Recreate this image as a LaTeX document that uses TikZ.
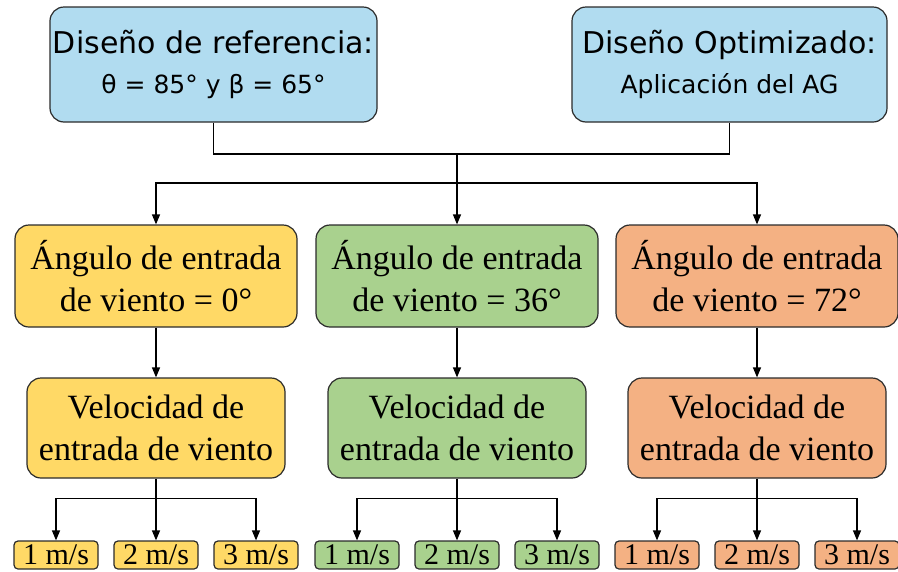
\documentclass[tikz,border=0pt]{standalone}
\usepackage{fontspec}
\setmainfont{Liberation Serif}
\newfontfamily\dejavu{DejaVu Sans}
\usetikzlibrary{arrows.meta}
\definecolor{azul}{HTML}{B1DCF0}
\definecolor{amarillo}{HTML}{FFD966}
\definecolor{verde}{HTML}{A9D18E}
\definecolor{naranja}{HTML}{F4B183}
\definecolor{borde}{HTML}{2B2B2B}
\tikzset{
  caja/.style={draw=borde, line width=1.2pt, rounded corners=14pt, align=center, inner sep=0pt},
  cajita/.style={draw=borde, line width=1.2pt, rounded corners=4pt, inner sep=0pt, minimum width=84pt, minimum height=28pt, font=\fontsize{30}{30}\selectfont},
  flecha/.style={line width=1.2pt, -{Triangle[length=10pt,width=8pt]}},
  linea/.style={line width=1.2pt}
}

\begin{document}
\begin{tikzpicture}[x=1pt,y=-1pt]
\useasboundingbox (0,0) rectangle (898,571);

% disenos de arriba
\node[caja, fill=azul, minimum width=327pt, minimum height=115pt, font=\dejavu\fontsize{30}{37}\selectfont] (ref) at (213.5,64.5) {Diseño de referencia:\\[3pt]{\fontsize{25}{30}\selectfont θ = 85° y β = 65°}};
\node[caja, fill=azul, minimum width=315pt, minimum height=115pt, font=\dejavu\fontsize{30}{37}\selectfont] (opt) at (729.5,64.5) {Diseño Optimizado:\\[3pt]{\fontsize{25}{30}\selectfont Aplicación del AG}};

\coordinate (j1) at (457,154);
\coordinate (j2) at (457,183);
\draw[linea] (ref.south) |- (j1) -| (opt.south);
\draw[linea] (j1) -- (j2);

\foreach \ang/\x/\col in {0/156/amarillo, 36/457/verde, 72/757/naranja} {
    \node[caja, fill=\col, minimum width=282pt, minimum height=102pt, font=\fontsize{34}{42}\selectfont] (ang\ang) at (\x,276) {Ángulo de entrada\\de viento = \ang{}°};
    \node[caja, fill=\col, minimum width=258pt, minimum height=100pt, font=\fontsize{34}{42}\selectfont] (vel\ang) at (\x,428) {Velocidad de\\entrada de viento};
    \draw[flecha] (j2) -| (ang\ang.north);
    \draw[flecha] (ang\ang) -- (vel\ang);

    % velocidades
    \draw[linea] (vel\ang.south) -- ++(0,20) coordinate (b\ang);
    \foreach \v in {1,2,3} {
        \node[cajita, fill=\col] (s\ang\v) at (\x+\v*100-200,555) {\v~m/s};
        \draw[flecha] (b\ang) -| (s\ang\v.north);
    }
}
\end{tikzpicture}
\end{document}
